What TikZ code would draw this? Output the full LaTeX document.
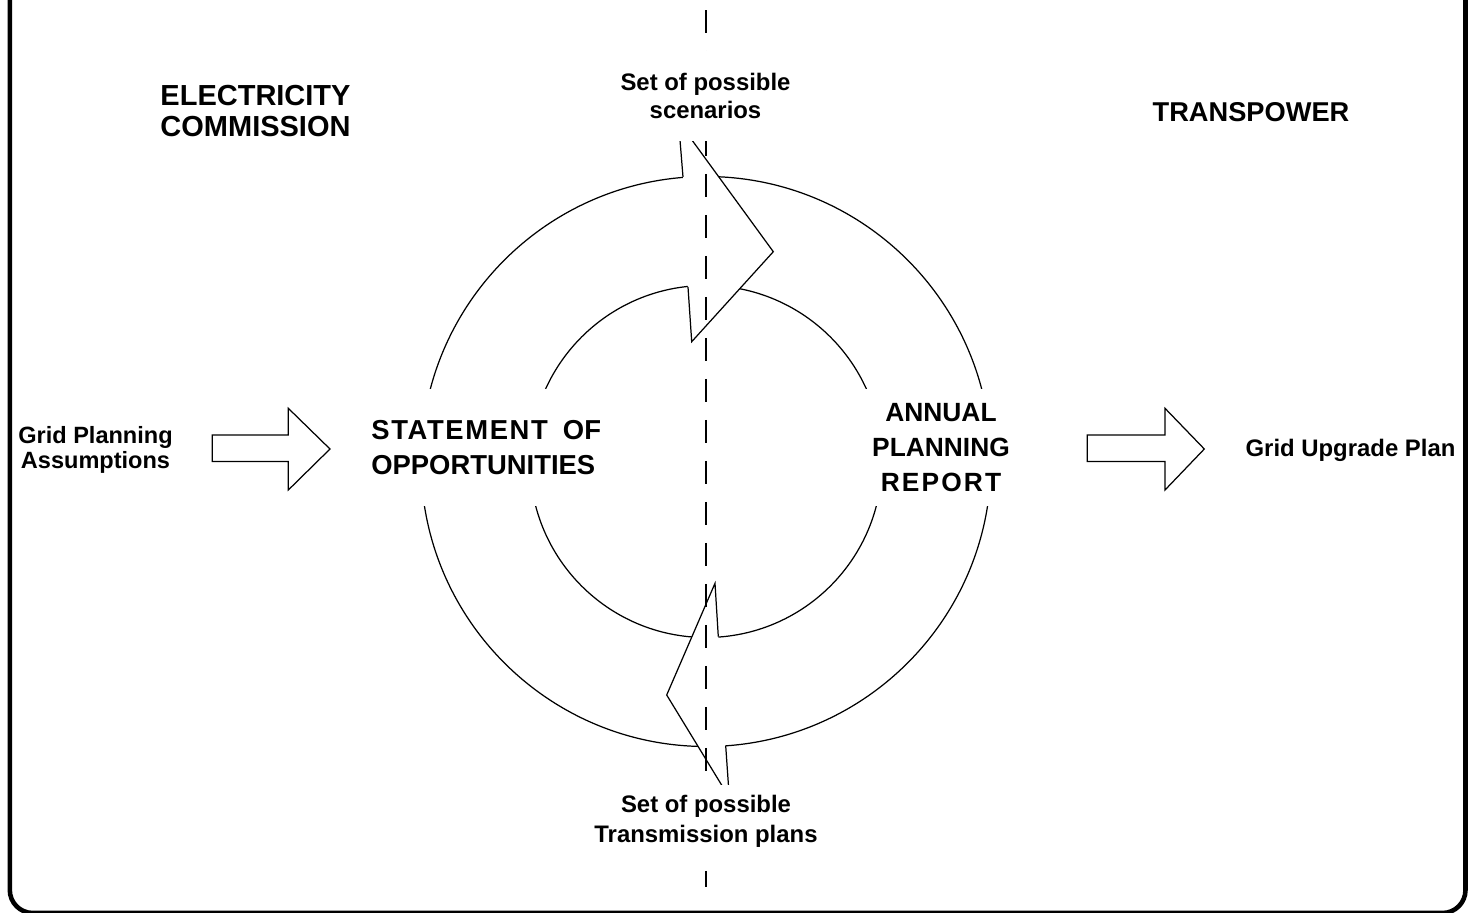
\documentclass[tikz,border=0pt]{standalone}
\usepackage{fontspec}
\setmainfont{Liberation Sans}
\tikzset{
    caption/.style = {font=\bfseries\fontsize{13.6}{16}\selectfont, align=center, inner sep=0pt},
    heading/.style = {font=\bfseries\fontsize{16.5}{18}\selectfont, align=center, inner sep=0pt},
    stage/.style = {fill=white, minimum height=2.34cm, inner xsep=0.24cm, inner ysep=0pt},
    ring/.style = {line width=0.7pt},
    frame/.style = {line width=2.6pt, rounded corners=0.46cm}}

\begin{document}
\begin{tikzpicture}[x=0.02cm ,y=-0.02cm ,
    boundary/.style ={dash pattern=on 0.46cm off 0.36cm, line width=0.7pt} ,
    block/.style={draw, line width=0.7pt, fill=white}
    ]
    \clip (0,0) rectangle (1468,913);
    \draw [frame] (9.8,-60) rectangle (1465.5,913);
    % the two rings
    \coordinate (C) at (706,461.5);
    \draw [ring] (C) circle [radius=285];
    \draw [ring] (C) circle [radius=176];
    % curved arrow heads
    \fill [white] (683,177) -- (678.5,121.6) -- (773.3,251.7) -- (691.7,341.7) -- (688,287) -- cycle;
    \draw [ring] (683,177) -- (678.5,121.6) -- (773.3,251.7) -- (691.7,341.7) -- (688,287);
    \fill [white] (718.3,636.7) -- (715,583.3) -- (666.7,695) -- (729.3,797.6) -- (725.7,745.7) -- cycle;
    \draw [ring] (718.3,636.7) -- (715,583.3) -- (666.7,695) -- (729.3,797.6) -- (725.7,745.7);
    \draw [boundary] (706,10) -- (706,887);
    % block arrows in and out
    \draw [block] (212.3,435) -- (288.3,435) -- (288.3,408.3) -- (330,449) -- (288.3,490) -- (288.3,461.5) -- (212.3,461.5) -- cycle;
    \draw [block] (1087.3,435) -- (1165,435) -- (1165,408.3) -- (1204.3,449) -- (1165,490) -- (1165,461.5) -- (1087.3,461.5) -- cycle;
    % labels
    \node (ec) [heading] at (255.5,111) {ELECTRICITY\\COMMISSION};
    \node (tp) [heading, font=\bfseries\fontsize{15.5}{18}\selectfont] at (1251,112.5) {TRANSPOWER};
    \node (scen) [caption, fill=white, minimum height=1.8cm, font=\bfseries\fontsize{13.6}{15.7}\selectfont] at (705.5,96) {Set of possible\\scenarios};
    \node (plans) [caption, fill=white, minimum height=1.44cm, font=\bfseries\fontsize{13.6}{17}\selectfont] at (706,821) {Set of possible\\Transmission plans};
    \node (soo) [stage, anchor=west, align=left, font=\bfseries\fontsize{15.6}{19.8}\selectfont] at (359,447.5) {{\addfontfeature{LetterSpace=6}STATEMENT}\hspace{0.55em}OF\\OPPORTUNITIES};
    \node (apr) [stage, align=center, font=\bfseries\fontsize{15}{19.8}\selectfont] at (941,447.5) {ANNUAL\\PLANNING\\{\addfontfeature{LetterSpace=8}REPORT}};
    \node (gpa) [caption, font=\bfseries\fontsize{13.4}{14.2}\selectfont] at (95.5,449.7) {Grid Planning\\Assumptions};
    \node (gup) [caption] at (1350.5,450.3) {Grid Upgrade Plan};
\end{tikzpicture}
\end{document}
